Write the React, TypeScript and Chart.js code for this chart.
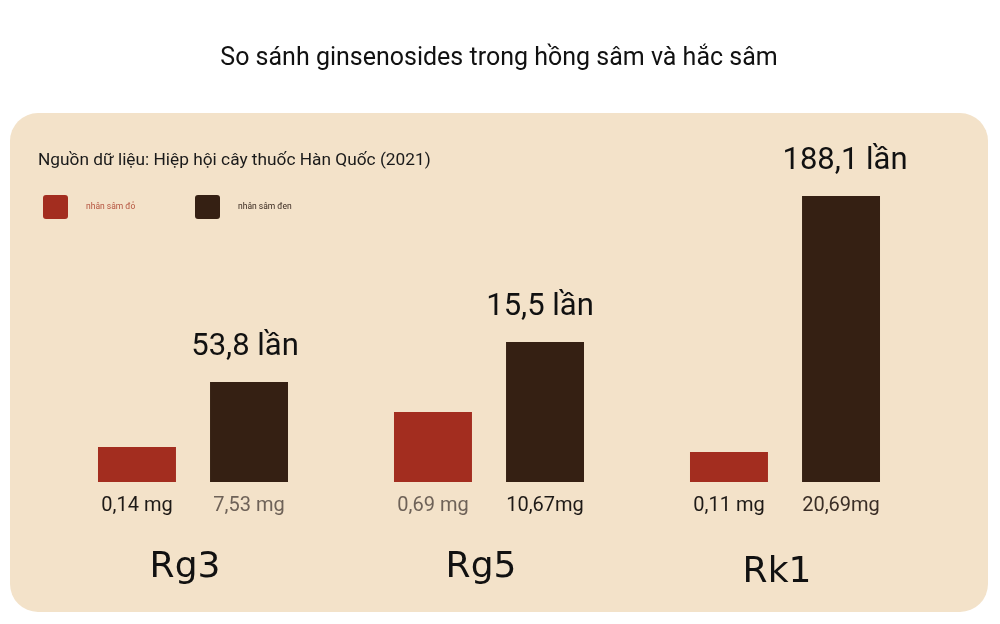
import React, { useEffect, useRef } from "react";
import { Chart, registerables } from "chart.js";

Chart.register(...registerables);

const categories = ["Rg3", "Rg5", "Rk1"];
const seriesNames = ["nhân sâm đỏ", "nhân sâm đen"];
// bar heights as drawn in the infographic (illustrative, not to scale)
const redHeights = [35, 70, 30];
const blackHeights = [100, 140, 286];
const redLabels = ["0,14 mg", "0,69 mg", "0,11 mg"];
const blackLabels = ["7,53 mg", "10,67mg", "20,69mg"];
const ratioLabels = ["53,8 lần", "15,5 lần", "188,1 lần"];
const redLabelColors = ["#1e1a17", "#6e6258", "#1e1a17"];
const blackLabelColors = ["#6e6258", "#1e1a17", "#3a2e26"];
const titleText = "So sánh ginsenosides trong hồng sâm và hắc sâm";
const sourceText = "Nguồn dữ liệu: Hiệp hội cây thuốc Hàn Quốc (2021)";

const RED = "#a32d1f";
const DARK = "#352013";
const PANEL = "#f3e2c9";

const decorPlugin = {
  id: "decor",
  beforeDraw(chart: any) {
    const ctx = chart.ctx;
    ctx.save();
    ctx.fillStyle = "#ffffff";
    ctx.fillRect(0, 0, chart.width, chart.height);
    ctx.fillStyle = PANEL;
    ctx.beginPath();
    (ctx as any).roundRect(10, 113, 978, 499, 28);
    ctx.fill();

    ctx.fillStyle = "#111111";
    ctx.textAlign = "center";
    ctx.textBaseline = "middle";
    ctx.font = "25px Roboto";
    ctx.fillText(titleText, 499, 59);

    ctx.textAlign = "left";
    ctx.font = "17.3px Roboto";
    ctx.fillStyle = "#1a1a1a";
    ctx.fillText(sourceText, 38, 161);

    // legend
    const legendX = [43, 195];
    const legendColors = [RED, DARK];
    const legendText = ["#b5543f", "#3a2a20"];
    ctx.font = "8.5px Roboto";
    legendX.forEach((x, i) => {
      ctx.fillStyle = legendColors[i];
      ctx.beginPath();
      (ctx as any).roundRect(x, 195, 25, 24, 3);
      ctx.fill();
      ctx.fillStyle = legendText[i];
      ctx.fillText(seriesNames[i], x + 43, 207);
    });
    ctx.restore();
  },
  afterDatasetsDraw(chart: any) {
    const ctx = chart.ctx;
    ctx.save();
    ctx.textAlign = "center";
    ctx.textBaseline = "middle";
    const m0 = chart.getDatasetMeta(0);
    const m1 = chart.getDatasetMeta(1);
    const base = chart.scales.y.getPixelForValue(0);
    const ratioShift = [-4, -5, 4];
    ctx.font = "20px Roboto";
    m0.data.forEach((bar: any, i: number) => {
      ctx.fillStyle = redLabelColors[i];
      ctx.fillText(redLabels[i], bar.x, base + 24);
    });
    m1.data.forEach((bar: any, i: number) => {
      ctx.fillStyle = blackLabelColors[i];
      ctx.fillText(blackLabels[i], bar.x, base + 24);
      ctx.fillStyle = "#111111";
      ctx.font = "31px Roboto";
      ctx.fillText(ratioLabels[i], bar.x + ratioShift[i], bar.y - 35);
      ctx.font = "20px Roboto";
    });
    // category labels
    const xs = chart.scales.x;
    ctx.font = "36px 'DejaVu Sans'";
    ctx.fillStyle = "#111111";
    ctx.textBaseline = "alphabetic";
    const yOff = [577, 577, 582];
    categories.forEach((c, i) => {
      ctx.fillText(c, xs.getPixelForValue(i) - 8, yOff[i]);
    });
    ctx.restore();
  },
};

export default function App() {
  const ref = useRef<HTMLCanvasElement | null>(null);
  useEffect(() => {
    if (!ref.current) return;
    const chart = new Chart(ref.current, {
      type: "bar",
      data: {
        labels: categories,
        datasets: [
          { label: seriesNames[0], data: redHeights, backgroundColor: RED },
          { label: seriesNames[1], data: blackHeights, backgroundColor: DARK },
        ],
      },
      options: {
        responsive: false,
        animation: false,
        events: [],
        datasets: { bar: { categoryPercentage: 0.757, barPercentage: 0.696 } },
        layout: { padding: { left: 45, right: 67, top: 182, bottom: 142 } },
        plugins: { legend: { display: false }, title: { display: false }, tooltip: { enabled: false } },
        scales: {
          x: { display: false },
          y: { display: false, min: 0, max: 300 },
        },
      },
      plugins: [decorPlugin],
    });
    return () => chart.destroy();
  }, []);
  return (
    <div style={{ position: "fixed", left: 0, top: 0, width: 1000, height: 624, background: "#fff" }}>
      <canvas ref={ref} width={1000} height={624} style={{ display: "block" }} />
    </div>
  );
}
